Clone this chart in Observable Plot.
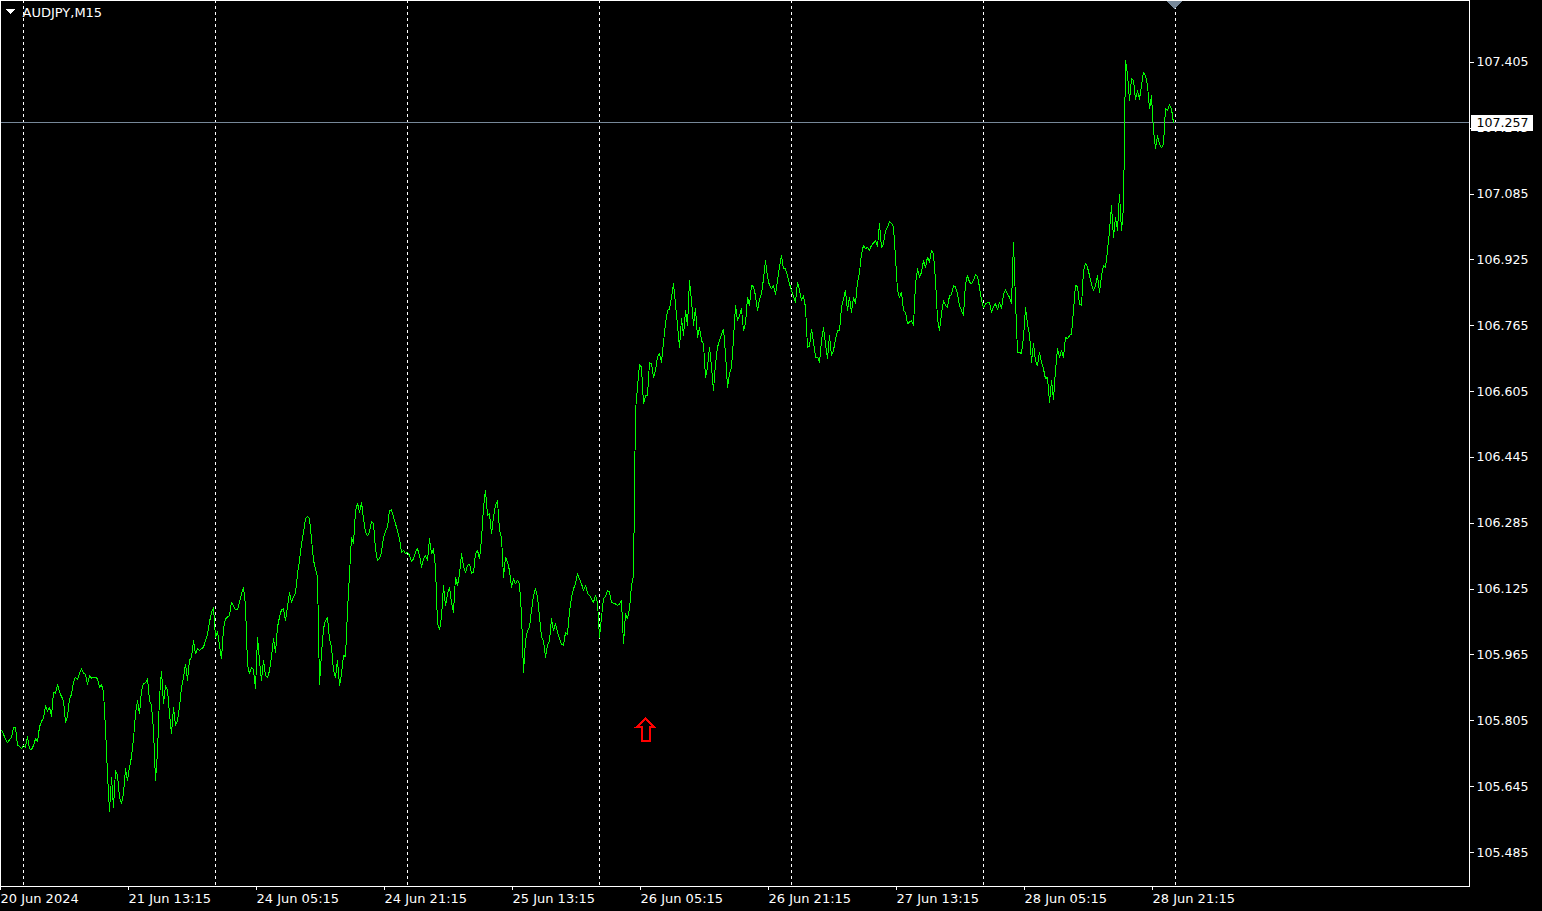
<!DOCTYPE html>
<html>
<head>
<meta charset="utf-8">
<style>
html,body{margin:0;padding:0;background:#000;overflow:hidden}
svg{display:block}
</style>
<script src="https://cdn.jsdelivr.net/npm/d3@7"></script>
<script src="https://cdn.jsdelivr.net/npm/@observablehq/plot@0.6"></script>
</head>
<body>
<div id="chart"></div>
<script>
// AUDJPY M15 closes, one per bar
const closes = [
105.781,105.771,105.760,105.751,105.758,105.764,105.787,105.787,105.744,105.742,105.736,105.744,105.740,105.766,105.736,105.734,105.744,105.760,105.754,105.789,
105.803,105.811,105.841,105.827,105.837,105.815,105.874,105.870,105.892,105.874,105.863,105.853,105.801,105.815,105.857,105.868,105.898,105.910,105.904,105.920,
105.930,105.920,105.917,105.892,105.914,105.908,105.910,105.910,105.906,105.886,105.892,105.874,105.785,105.675,105.584,105.667,105.594,105.683,105.671,105.618,
105.602,105.627,105.687,105.659,105.691,105.716,105.760,105.821,105.853,105.821,105.878,105.894,105.896,105.906,105.853,105.841,105.781,105.659,105.728,105.861,
105.925,105.845,105.890,105.878,105.821,105.772,105.837,105.793,105.805,105.837,105.886,105.908,105.942,105.902,105.951,105.959,105.999,105.967,105.979,105.975,
105.979,105.983,105.999,106.015,106.044,106.068,106.079,106.007,106.022,105.987,105.955,106.028,106.052,106.056,106.060,106.092,106.084,106.074,106.074,106.092,
106.113,106.129,106.084,105.942,105.918,105.933,105.928,105.882,106.007,105.951,105.902,105.951,105.914,105.910,105.925,105.959,106.003,105.971,106.032,106.056,
106.074,106.076,106.048,106.080,106.117,106.092,106.106,106.114,106.161,106.194,106.234,106.262,106.295,106.301,106.296,106.246,106.194,106.173,106.153,105.893,
105.967,106.028,106.048,106.054,106.003,105.983,105.926,105.910,105.951,105.890,105.918,105.963,105.960,106.072,106.161,106.250,106.234,106.315,106.333,106.311,
106.335,106.295,106.262,106.254,106.262,106.289,106.284,106.222,106.194,106.198,106.214,106.250,106.265,106.275,106.315,106.317,106.299,106.283,106.266,106.246,
106.214,106.218,106.210,106.214,106.206,106.190,106.198,106.214,106.222,106.206,106.177,106.198,106.206,106.194,106.246,106.210,106.222,106.177,106.040,106.025,
106.056,106.133,106.084,106.113,106.129,106.092,106.068,106.153,106.133,106.161,106.210,106.179,106.165,106.181,106.185,106.163,106.165,106.210,106.218,106.198,
106.246,106.323,106.364,106.303,106.307,106.258,106.299,106.327,106.339,106.266,106.250,106.153,106.202,106.190,106.169,106.129,106.149,106.137,106.145,106.137,
106.064,105.922,105.999,106.022,106.032,106.072,106.109,106.125,106.104,106.056,106.007,105.999,105.959,105.987,105.998,106.052,106.023,106.040,106.019,106.003,
105.991,105.987,106.019,106.015,106.068,106.104,106.125,106.137,106.161,106.149,106.137,106.121,106.133,106.114,106.109,106.100,106.092,106.109,106.092,106.007,
106.056,106.100,106.107,106.121,106.117,106.092,106.090,106.088,106.084,106.088,106.096,105.991,106.064,106.052,106.076,106.133,106.157,
106.558,106.615,106.671,106.663,106.574,106.594,106.594,106.675,106.671,106.639,106.655,106.688,106.697,106.675,106.724,106.769,106.801,106.805,106.833,106.866,
106.817,106.765,106.712,106.781,106.740,106.801,106.765,106.874,106.825,106.765,106.807,106.736,106.760,106.728,106.720,106.639,106.663,106.712,106.663,106.607,
106.671,106.712,106.728,106.743,106.756,106.696,106.615,106.647,106.663,106.732,106.813,106.777,106.789,106.805,106.752,106.769,106.833,106.813,106.862,106.859,
106.837,106.801,106.829,106.841,106.878,106.922,106.882,106.862,106.854,106.862,106.841,106.874,106.906,106.935,106.902,106.902,106.886,106.866,106.850,106.835,
106.821,106.870,106.850,106.825,106.837,106.809,106.712,106.714,106.756,106.724,106.688,106.688,106.675,106.728,106.760,106.720,106.684,106.740,106.692,106.704,
106.732,106.752,106.752,106.809,106.829,106.850,106.801,106.833,106.797,106.833,106.817,106.870,106.894,106.939,106.959,106.951,106.955,106.948,106.959,106.965,
106.971,106.957,107.012,106.953,106.963,106.995,107.003,107.018,107.013,107.003,106.931,106.850,106.833,106.846,106.801,106.797,106.769,106.773,106.777,106.765,
106.866,106.902,106.882,106.894,106.922,106.906,106.931,106.918,106.947,106.939,106.874,106.781,106.752,106.793,106.825,106.813,106.809,106.837,106.840,106.862,
106.858,106.841,106.813,106.801,106.789,106.866,106.886,106.870,
106.866,106.875,106.888,106.884,106.858,106.825,106.809,106.817,106.820,106.821,106.797,106.811,106.817,106.803,106.821,106.805,106.841,106.851,106.841,106.833,
106.817,106.967,106.825,106.700,106.700,106.696,106.736,106.809,106.768,106.744,106.675,106.722,106.679,106.667,106.700,106.675,106.659,106.635,106.639,106.578,
106.631,106.586,106.655,106.708,106.687,106.704,106.687,106.736,106.732,106.740,106.744,106.801,106.863,106.858,106.817,106.813,106.898,106.916,106.906,106.886,
106.866,106.849,106.862,106.886,106.845,106.886,106.910,106.906,106.947,106.995,107.056,106.979,107.028,106.995,107.084,106.995,107.052,107.408,107.376,107.311,
107.364,107.360,107.315,107.335,107.315,107.348,107.380,107.372,107.348,107.291,107.323,107.238,107.194,107.226,107.206,107.196,107.206,107.291,107.287,107.301,
107.291,107.257
];
const priceTicks = [107.405,107.245,107.085,106.925,106.765,106.605,106.445,106.285,106.125,105.965,105.805,105.645,105.485];
const timeTickBars = [0,64,128,192,256,320,384,448,512,576];
const timeTickLabels = ["20 Jun 2024","21 Jun 13:15","24 Jun 05:15","24 Jun 21:15","25 Jun 13:15","26 Jun 05:15","26 Jun 21:15","27 Jun 13:15","28 Jun 05:15","28 Jun 21:15"];
const dayBars = [11,107,203,299,395,491,587];
const lastPrice = 107.257;
const signalBar = 322;
const signalPrice = 105.783;
const symbolName = "AUDJPY,M15";

const font = '"DejaVu Sans", sans-serif';
const downTriangle = {draw(c, s){const r=Math.sqrt(s/Math.PI);c.moveTo(-r,0);c.lineTo(r,0);c.lineTo(0,r);c.closePath();}};
const upArrow = {draw(c){c.moveTo(0,-11);c.lineTo(9.5,-2);c.lineTo(4,-2);c.lineTo(4,12);c.lineTo(-4,12);c.lineTo(-4,-2);c.lineTo(-9.5,-2);c.closePath();}};

const chart = Plot.plot({
  width: 1542,
  height: 911,
  marginTop: 0,
  marginLeft: 0,
  marginRight: 73,
  marginBottom: 25,
  style: {background:"#000", color:"#fff", fontFamily:font, fontSize:"13px", shapeRendering:"crispEdges"},
  x: {domain:[0,734], range:[1,1469]},
  y: {domain:[105.4014,107.5544], range:[886,0]},
  marks: [
    Plot.ruleX(dayBars, {stroke:"#fff", strokeWidth:1, strokeDasharray:"3,3"}),
    Plot.ruleY([lastPrice], {stroke:"#778899", strokeWidth:1}),
    Plot.line(closes, {x:(d,i)=>i, y:d=>d, stroke:"#00ff00", strokeWidth:1}),
    Plot.frame({stroke:"#fff", strokeWidth:1}),
    Plot.axisY({anchor:"right", ticks:priceTicks, tickFormat:d=>d.toFixed(3), tickSize:4, tickPadding:3, label:null, stroke:"#fff", fill:"#fff", textAnchor:"start", fontSize:12.6, dy:0.4}),
    Plot.axisX({ticks:timeTickBars, tickFormat:d=>timeTickLabels[timeTickBars.indexOf(d)], tickSize:4, tickPadding:3, label:null, stroke:"#fff", fill:"#fff", textAnchor:"start", dx:-1}),
    Plot.ruleY([lastPrice], {x1:735, x2:766, stroke:"#fff", strokeWidth:16}),
    Plot.text([lastPrice], {x:737.5, y:d=>d, text:d=>d.toFixed(3), fill:"#000", textAnchor:"start", lineAnchor:"middle", fontSize:12.6, dy:0.4}),
    Plot.dot([586.5], {x:d=>d, frameAnchor:"top", symbol:downTriangle, r:8.5, fill:"#778899", stroke:null}),
    Plot.dot([signalBar], {x:d=>d, y:signalPrice, symbol:upArrow, r:10, fill:"none", stroke:"#ff0000", strokeWidth:2}),
    Plot.dot([0], {frameAnchor:"top-left", dx:9.5, dy:8, symbol:downTriangle, r:5.5, fill:"#fff", stroke:null}),
    Plot.text([symbolName], {frameAnchor:"top-left", dx:22, dy:12.4, text:d=>d, fill:"#fff", textAnchor:"start", lineAnchor:"middle"})
  ]
});
document.getElementById("chart").appendChild(chart);
</script>
</body>
</html>
